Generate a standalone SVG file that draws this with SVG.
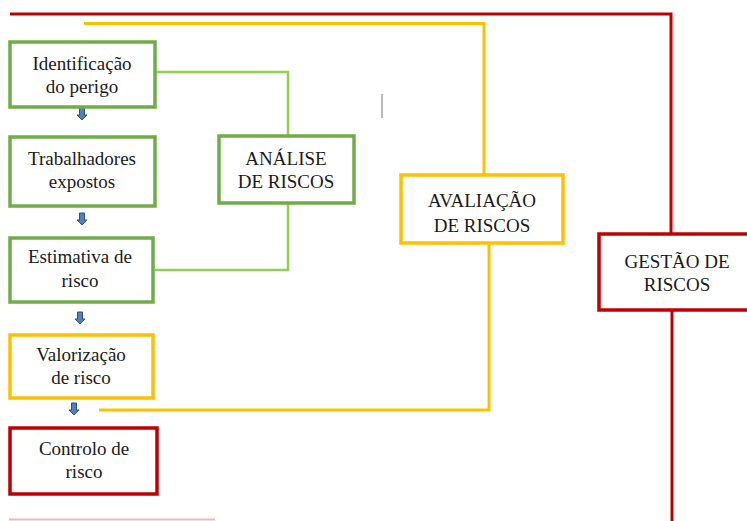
<svg xmlns="http://www.w3.org/2000/svg" width="747" height="521" viewBox="0 0 747 521">
<defs>
<style>
text{font-family:'Liberation Serif','DejaVu Serif',serif;font-size:19px;fill:#1a1a1a;text-anchor:middle}
.bg{fill:#fff;stroke:#70AD47;stroke-width:3.5}
.by{fill:#fff;stroke:#FFC000;stroke-width:3.5}
.br{fill:#fff;stroke:#C00000;stroke-width:3.5}
.lg{fill:none;stroke:#92D050;stroke-width:2.5}
.ly{fill:none;stroke:#FFC000;stroke-width:3}
.lr{fill:none;stroke:#C00000;stroke-width:3}
.ar{fill:#4F81BD;stroke:#2F4F7F;stroke-width:1}
</style>
<path id="arr" class="ar" d="M-2.5,0 H2.5 V7 H5 L0,12 L-5,7 H-2.5 Z"/>
</defs>
<rect width="747" height="521" fill="#fff"/>
<g id="connectors">
<path class="lr" d="M10,14 H671 V234"/>
<path class="lr" d="M672,310 V521"/>
<path class="ly" d="M84,23.5 H484 V175"/>
<path class="ly" d="M489,243 V410 H99"/>
<path class="lg" d="M155,72 H288 V136"/>
<path class="lg" d="M288,203 V270 H155"/>
<line x1="9" y1="519.5" x2="215" y2="519.5" stroke="#F4B6B6" stroke-width="2"/>
<line x1="382" y1="94" x2="382" y2="118" stroke="#777" stroke-width="1"/>
<use href="#arr" x="82" y="108"/>
<use href="#arr" x="82" y="213"/>
<use href="#arr" x="80" y="312"/>
<use href="#arr" x="74" y="403"/>
</g>
<g id="identificacao">
<rect class="bg" x="10" y="42" width="145" height="65"/>
<text x="82" y="70">Identificação</text>
<text x="82" y="93">do perigo</text>
</g>
<g id="trabalhadores">
<rect class="bg" x="10" y="137" width="145" height="69"/>
<text x="82" y="165">Trabalhadores</text>
<text x="82" y="188">expostos</text>
</g>
<g id="estimativa">
<rect class="bg" x="10" y="238" width="143" height="64"/>
<text x="80" y="263">Estimativa de</text>
<text x="80" y="287">risco</text>
</g>
<g id="valorizacao">
<rect class="by" x="10" y="335" width="143" height="63"/>
<text x="81" y="361">Valorização</text>
<text x="81" y="384">de risco</text>
</g>
<g id="controlo">
<rect class="br" x="10" y="428" width="147" height="66"/>
<text x="84" y="455">Controlo de</text>
<text x="84" y="478">risco</text>
</g>
<g id="analise">
<rect class="bg" x="219" y="136" width="135" height="67"/>
<text x="286" y="165">ANÁLISE</text>
<text x="286" y="188">DE RISCOS</text>
</g>
<g id="avaliacao">
<rect class="by" x="401" y="175" width="162" height="68"/>
<text x="482" y="207">AVALIAÇÃO</text>
<text x="482" y="232">DE RISCOS</text>
</g>
<g id="gestao">
<rect class="br" x="599" y="234" width="152" height="76"/>
<text x="677" y="268">GESTÃO DE</text>
<text x="677" y="291">RISCOS</text>
</g>
</svg>
